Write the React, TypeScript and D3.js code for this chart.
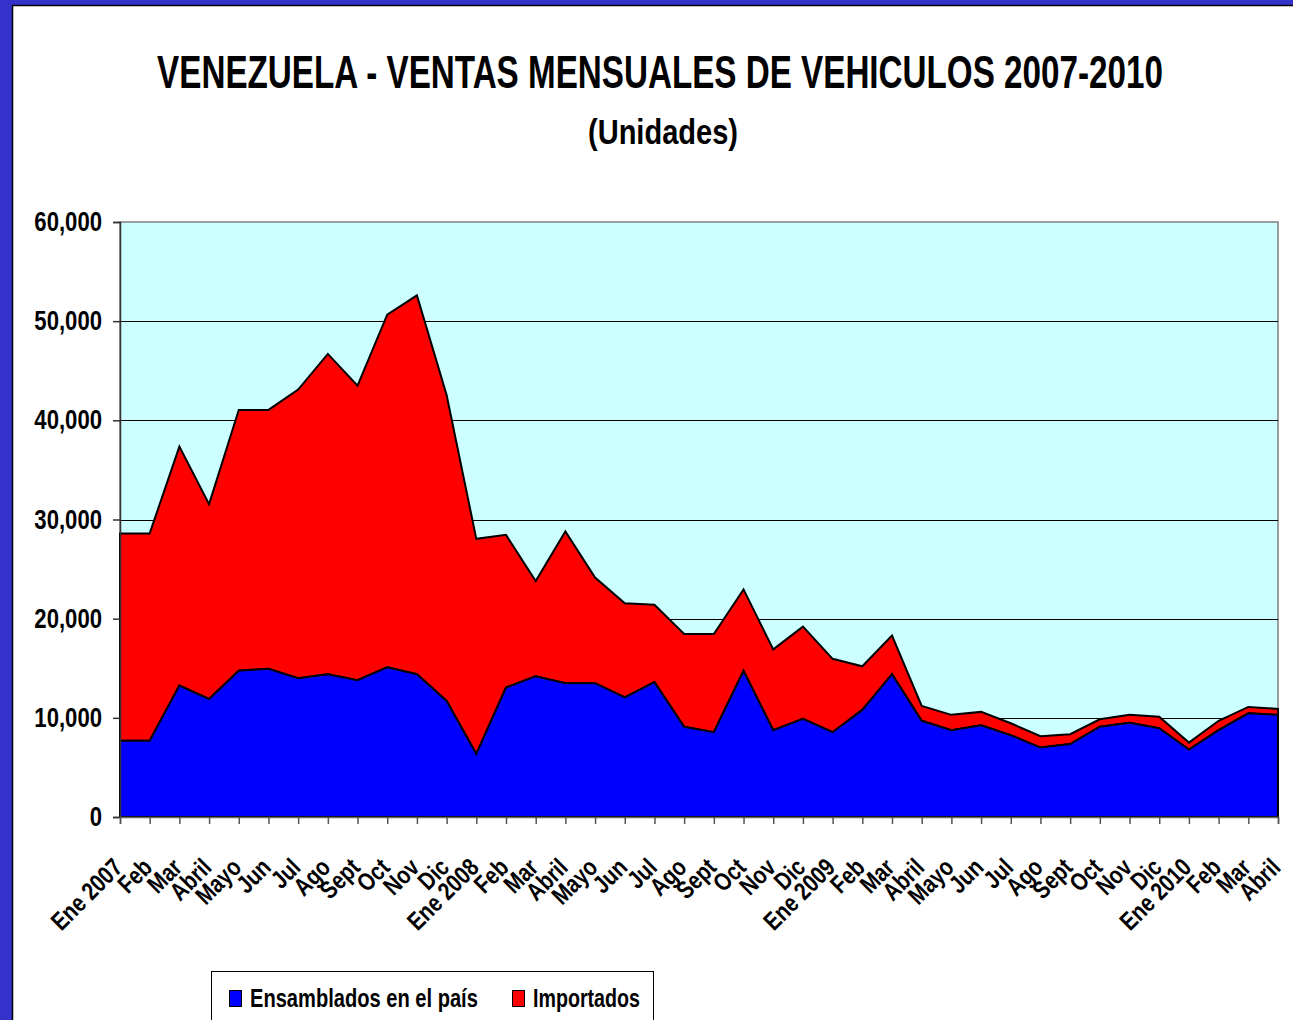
import * as d3 from 'd3'
import React, { useRef, useEffect } from 'react'

const months = [
  'Ene 2007', 'Feb', 'Mar', 'Abril', 'Mayo', 'Jun', 'Jul', 'Ago', 'Sept', 'Oct', 'Nov', 'Dic',
  'Ene 2008', 'Feb', 'Mar', 'Abril', 'Mayo', 'Jun', 'Jul', 'Ago', 'Sept', 'Oct', 'Nov', 'Dic',
  'Ene 2009', 'Feb', 'Mar', 'Abril', 'Mayo', 'Jun', 'Jul', 'Ago', 'Sept', 'Oct', 'Nov', 'Dic',
  'Ene 2010', 'Feb', 'Mar', 'Abril',
]

// unidades ensambladas en el pais
const ensamblados = [
  7700, 7700, 13250, 11900, 14750, 14950, 14000, 14400, 13800, 15100, 14400, 11700,
  6350, 13050, 14200, 13500, 13500, 12050, 13600, 9100, 8550, 14750, 8750, 9900,
  8550, 10800, 14400, 9700, 8750, 9250, 8250, 7000, 7350, 9100, 9500, 8950,
  6800, 8750, 10450, 10300,
]

// unidades importadas
const importados = [
  20900, 20900, 24100, 19650, 26300, 26100, 29100, 32300, 29700, 35550, 38200, 30850,
  21700, 15400, 9600, 15300, 10650, 9500, 7800, 9350, 9900, 8200, 8150, 9300,
  7400, 4400, 3900, 1500, 1550, 1350, 1200, 1150, 1000, 750, 800, 1150,
  700, 950, 650, 600,
]

const yTicks = [0, 10000, 20000, 30000, 40000, 50000, 60000]

const seriesNames = ['Ensamblados en el país', 'Importados']
const seriesColors = ['#0000FF', '#FF0000']

const title = 'VENEZUELA - VENTAS MENSUALES DE VEHICULOS 2007-2010'
const subtitle = '(Unidades)'

const FONT = "'Liberation Sans', Arial, sans-serif"
const NARROW = 0.82

export default function App() {
  const ref = useRef<SVGGElement>(null)

  const W = 1293
  const H = 1020
  const left = 120
  const right = 1278
  const top = 222
  const bottom = 817

  useEffect(() => {
    const g = d3.select(ref.current)
    g.selectAll('*').remove()

    // text squeezed horizontally to a given width (narrow font look)
    const fitted = (x0: number, y0: number, str: string, size: number, width: number, anchor: string) => {
      const t = g.append('text')
        .attr('font-family', FONT)
        .attr('font-weight', 'bold')
        .attr('font-size', size)
        .attr('fill', '#000')
        .attr('text-anchor', anchor)
        .text(str)
      const len = (t.node() as SVGTextElement).getComputedTextLength()
      t.attr('transform', `translate(${x0},${y0}) scale(${width / len},1)`)
      return t
    }

    fitted(660, 88, title, 47, 1006, 'middle')
    fitted(663, 144, subtitle, 36, 150, 'middle')

    const x = d3.scaleLinear().domain([0, months.length - 1]).range([left, right])
    const y = d3.scaleLinear().domain([0, 60000]).range([bottom, top])

    const rows = months.map((m, i) => ({ i, ens: ensamblados[i], imp: importados[i] }))
    const layers = d3.stack<any>().keys(['ens', 'imp'])(rows)

    // plot area
    g.append('rect')
      .attr('x', left)
      .attr('y', top)
      .attr('width', right - left)
      .attr('height', bottom - top)
      .attr('fill', '#CCFFFF')
      .attr('stroke', '#808080')
      .attr('stroke-width', 1.5)

    // gridlines
    g.append('g')
      .selectAll('line')
      .data(yTicks.filter(t => t > 0 && t < 60000))
      .join('line')
      .attr('x1', left)
      .attr('x2', right)
      .attr('y1', d => Math.round(y(d)) + 0.5)
      .attr('y2', d => Math.round(y(d)) + 0.5)
      .attr('stroke', '#000')
      .attr('stroke-width', 1)
      .attr('shape-rendering', 'crispEdges')

    const area = d3.area<any>()
      .x(d => x(d.data.i))
      .y0(d => y(d[0]))
      .y1(d => y(d[1]))

    g.append('g')
      .selectAll('path')
      .data(layers.slice().reverse())
      .join('path')
      .attr('d', area)
      .attr('fill', (d, i) => seriesColors[layers.length - 1 - i])
      .attr('stroke', '#000')
      .attr('stroke-width', 2)

    // y axis
    const yAxis = g.append('g')
      .attr('transform', `translate(${left},0)`)
      .call(d3.axisLeft(y).tickValues(yTicks).tickSize(7).tickFormat(d3.format(',')))
    yAxis.select('.domain').attr('stroke', '#333').attr('stroke-width', 1.5)
    yAxis.selectAll('.tick line').attr('stroke', '#333').attr('stroke-width', 1.5)
    yAxis.selectAll('.tick text')
      .attr('x', null)
      .attr('transform', `translate(-18,0) scale(${NARROW},1)`)
      .attr('font-family', FONT)
      .attr('font-weight', 'bold')
      .attr('font-size', 27)
      .attr('fill', '#000')

    // x axis
    const xAxis = g.append('g')
      .attr('transform', `translate(0,${bottom})`)
      .call(d3.axisBottom(x).tickValues(d3.range(months.length)).tickSize(7).tickFormat(() => ''))
    xAxis.select('.domain').attr('stroke', '#666').attr('stroke-width', 1.5)
    xAxis.selectAll('.tick line').attr('stroke', '#555').attr('stroke-width', 1.5)

    g.append('g')
      .selectAll('text')
      .data(months)
      .join('text')
      .attr('transform', (d, i) => `translate(${x(i) + 4},${bottom + 52}) rotate(-45) scale(${NARROW},1)`)
      .attr('text-anchor', 'end')
      .attr('font-family', FONT)
      .attr('font-weight', 'bold')
      .attr('font-size', 25)
      .attr('fill', '#000')
      .text(d => d)

    // legend
    const lg = g.append('g')
    lg.append('rect')
      .attr('x', 211.5).attr('y', 971.5).attr('width', 442).attr('height', 80)
      .attr('fill', '#fff').attr('stroke', '#000')
    const items = [
      { name: seriesNames[0], color: seriesColors[0], sx: 229.5, tx: 250, tw: 228 },
      { name: seriesNames[1], color: seriesColors[1], sx: 512.5, tx: 533, tw: 107 },
    ]
    items.forEach(it => {
      lg.append('rect')
        .attr('x', it.sx).attr('y', 990.5).attr('width', 12).attr('height', 16)
        .attr('fill', it.color).attr('stroke', '#000')
      fitted(it.tx, 1007, it.name, 25, it.tw, 'start')
    })
  }, [])

  return (
    <svg width={W} height={H} style={{ position: 'absolute', left: 0, top: 0, display: 'block' }}>
      <rect x={0} y={0} width={W} height={H} fill="#3333CC" />
      <rect x={12.5} y={5.5} width={W + 20} height={H + 20} fill="#FFFFFF" stroke="#000" strokeWidth={1.5} />
      <g ref={ref} />
    </svg>
  )
}
